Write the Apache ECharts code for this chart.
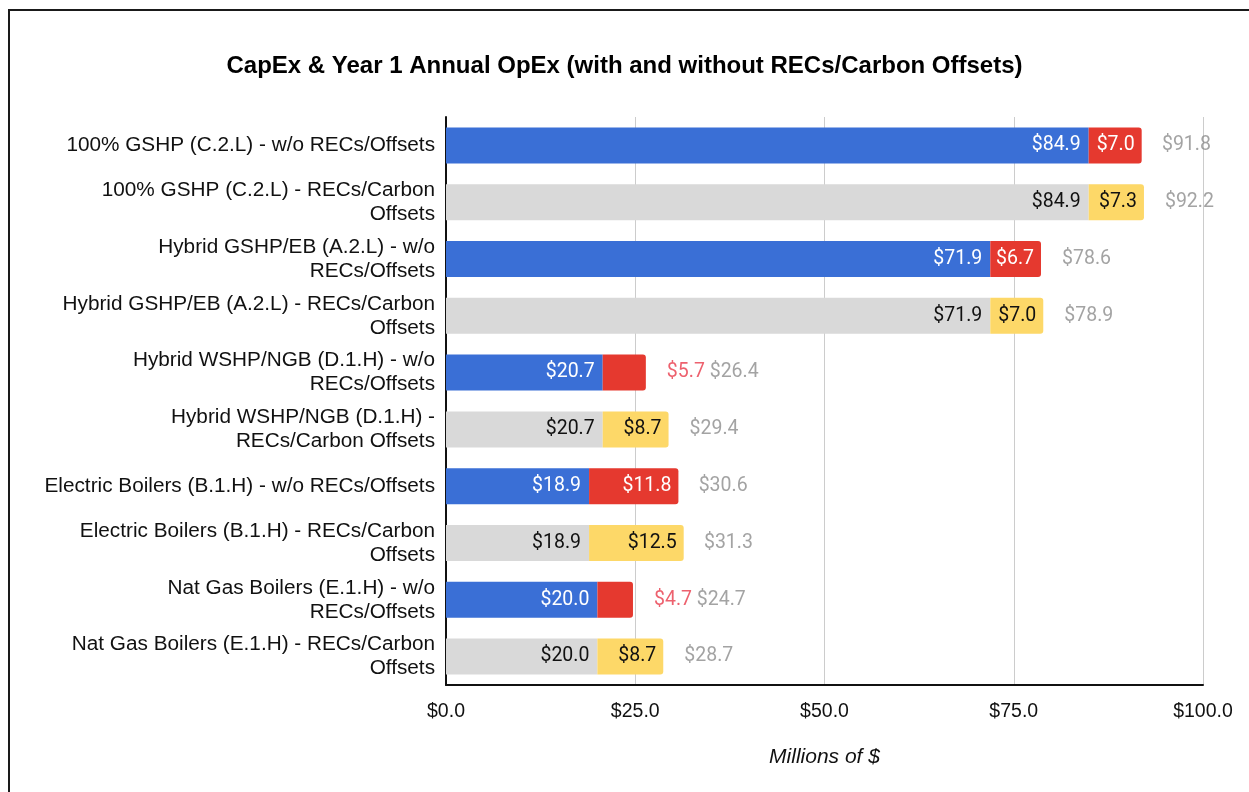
<!DOCTYPE html>
<html>
<head>
<meta charset="utf-8">
<script src="https://cdn.jsdelivr.net/npm/echarts@6/dist/echarts.min.js"></script>
<style>
  html, body { margin: 0; padding: 0; background: #fff; }
  #chart { width: 1249px; height: 792px; }
</style>
</head>
<body>
<div id="chart"></div>
<script>
// Scenario names (line breaks as shown on the axis)
const categories = [
  '100% GSHP (C.2.L) - w/o RECs/Offsets',
  '100% GSHP (C.2.L) - RECs/Carbon\nOffsets',
  'Hybrid GSHP/EB (A.2.L) - w/o\nRECs/Offsets',
  'Hybrid GSHP/EB (A.2.L) - RECs/Carbon\nOffsets',
  'Hybrid WSHP/NGB (D.1.H) - w/o\nRECs/Offsets',
  'Hybrid WSHP/NGB (D.1.H) -\nRECs/Carbon Offsets',
  'Electric Boilers (B.1.H) - w/o RECs/Offsets',
  'Electric Boilers (B.1.H) - RECs/Carbon\nOffsets',
  'Nat Gas Boilers (E.1.H) - w/o\nRECs/Offsets',
  'Nat Gas Boilers (E.1.H) - RECs/Carbon\nOffsets'
];
// CapEx, millions of $
const capex = [84.9, 84.9, 71.9, 71.9, 20.7, 20.7, 18.9, 18.9, 20.0, 20.0];
// Year 1 annual OpEx, millions of $
const opex = [7.0, 7.3, 6.7, 7.0, 5.7, 8.7, 11.8, 12.5, 4.7, 8.7];
// Totals as reported
const totals = [91.8, 92.2, 78.6, 78.9, 26.4, 29.4, 30.6, 31.3, 24.7, 28.7];
// true = scenario without RECs/Offsets
const withoutRecs = [true, false, true, false, true, false, true, false, true, false];
const xTicks = { min: 0, max: 100, interval: 25 };

const BLUE = '#3a6fd6', RED = '#e5392f', GRAY = '#d9d9d9', YELLOW = '#fdd868';
const TOTAL_GRAY = '#8c8c8c', RED_TEXT = '#e8394a';
const money = v => '$' + v.toFixed(1);
// OpEx segments narrower than this get their label outside the bar
const INSIDE_MIN = 6.0;

const chart = echarts.init(document.getElementById('chart'));

const baseData = capex.map((v, i) => ({
  value: v,
  itemStyle: { color: withoutRecs[i] ? BLUE : GRAY },
  label: { color: withoutRecs[i] ? '#ffffff' : '#111111' }
}));
const opexData = opex.map((v, i) => ({
  value: v,
  itemStyle: { color: withoutRecs[i] ? RED : YELLOW },
  label: {
    show: v >= INSIDE_MIN,
    color: withoutRecs[i] ? '#ffffff' : '#111111'
  }
}));
const totalData = totals.map((t, i) => [t, i]);

const labelFont = { fontFamily: 'Roboto', fontSize: 19.5 };

chart.setOption({
  animation: false,
  backgroundColor: '#ffffff',
  title: {
    text: 'CapEx & Year 1 Annual OpEx (with and without RECs/Carbon Offsets)',
    left: 'center',
    top: 49,
    textStyle: { fontFamily: 'Liberation Sans', fontWeight: 'bold', fontSize: 24, color: '#000' }
  },
  graphic: [{
    type: 'rect',
    shape: { x: 9, y: 10, width: 1400, height: 1000 },
    style: { fill: null, stroke: '#1a1a1a', lineWidth: 2 },
    silent: true
  }],
  grid: { left: 446, right: 46, top: 117, bottom: 107 },
  xAxis: {
    type: 'value',
    min: xTicks.min, max: xTicks.max, interval: xTicks.interval,
    name: 'Millions of $',
    nameLocation: 'middle',
    nameGap: 62,
    nameTextStyle: { fontFamily: 'Liberation Sans', fontStyle: 'italic', fontSize: 21, color: '#111' },
    axisLine: { show: true, lineStyle: { color: '#111', width: 2 } },
    axisTick: { show: false },
    axisLabel: {
      formatter: v => money(v),
      fontFamily: 'Liberation Sans', fontSize: 19.5, color: '#111', margin: 17
    },
    splitLine: { show: true, lineStyle: { color: '#cccccc', width: 1 } }
  },
  yAxis: {
    type: 'category',
    data: categories,
    inverse: true,
    axisLine: { show: true, lineStyle: { color: '#111', width: 2 } },
    axisTick: { show: false },
    axisLabel: {
      fontFamily: 'Liberation Sans', fontSize: 20.75, color: '#111',
      lineHeight: 24, align: 'right', margin: 11
    }
  },
  series: [
    {
      name: 'CapEx', type: 'bar', stack: 'cost', barWidth: 36,
      data: baseData,
      label: Object.assign({ show: true, position: 'insideRight', distance: 8, formatter: p => money(p.value) }, labelFont),
      z: 2
    },
    {
      name: 'OpEx', type: 'bar', stack: 'cost', barWidth: 36,
      data: opexData,
      itemStyle: { borderRadius: [0, 3, 3, 0] },
      label: Object.assign({ show: true, position: 'insideRight', distance: 7, formatter: p => money(p.value) }, labelFont),
      z: 2
    },
    {
      name: 'Total', type: 'scatter', symbolSize: 0,
      data: totalData,
      label: {
        show: true, position: 'right', distance: 21,
        formatter: p => {
          const i = p.dataIndex;
          const t = '{t|' + money(totals[i]) + '}';
          return opex[i] < INSIDE_MIN ? '{r|' + money(opex[i]) + '}{t| }' + t : t;
        },
        rich: {
          t: Object.assign({ color: TOTAL_GRAY }, labelFont),
          r: Object.assign({ color: RED_TEXT }, labelFont)
        }
      },
      z: 3
    }
  ]
});
</script>
</body>
</html>
